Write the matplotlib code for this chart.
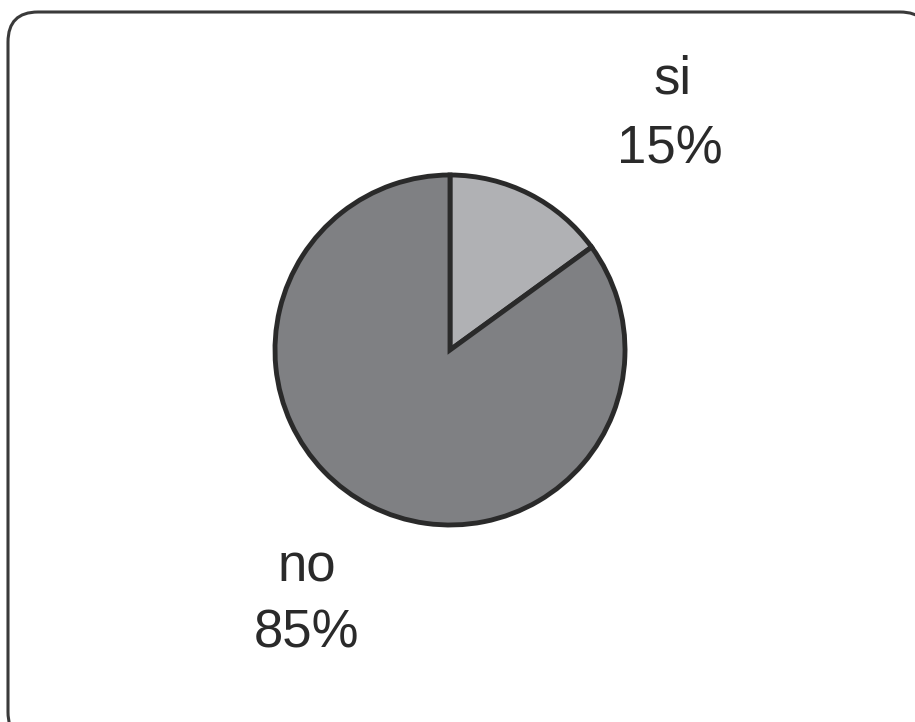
import matplotlib
matplotlib.use("Agg")
import matplotlib.pyplot as plt
from matplotlib.patches import FancyBboxPatch

categories = ["si", "no"]
values = [15, 85]
pct_labels = ["15%", "85%"]
colors = ["#b0b1b4", "#7f8083"]

W, H = 915, 722
fig = plt.figure(figsize=(W / 100, H / 100), dpi=100)
ax = fig.add_axes([0, 0, 1, 1])
ax.set_xlim(0, W)
ax.set_ylim(0, H)
ax.set_aspect("equal")
ax.axis("off")

# rounded frame
box = FancyBboxPatch((8 + 30, H - 742 + 30), 930 - 8 - 60, 742 - 12 - 60,
                     boxstyle="round,pad=30", fc="white", ec="#3a3a3a", lw=2.2, zorder=0)
ax.add_patch(box)

ax.pie(values, colors=colors, startangle=90, counterclock=False,
       center=(450, H - 350), radius=175, frame=True,
       wedgeprops=dict(edgecolor="#2a2a2a", linewidth=3.5))
ax.set_xlim(0, W)
ax.set_ylim(0, H)
ax.axis("off")

font = dict(family="Liberation Sans", fontsize=38, color="#2a2a2a", ha="center", va="center")
ax.text(672, H - 80, categories[0], **font)
ax.text(670, H - 150, pct_labels[0], **font)
ax.text(307, H - 567, categories[1], **font)
ax.text(307, H - 634, pct_labels[1], **font)

fig.savefig("out.png", dpi=100)
